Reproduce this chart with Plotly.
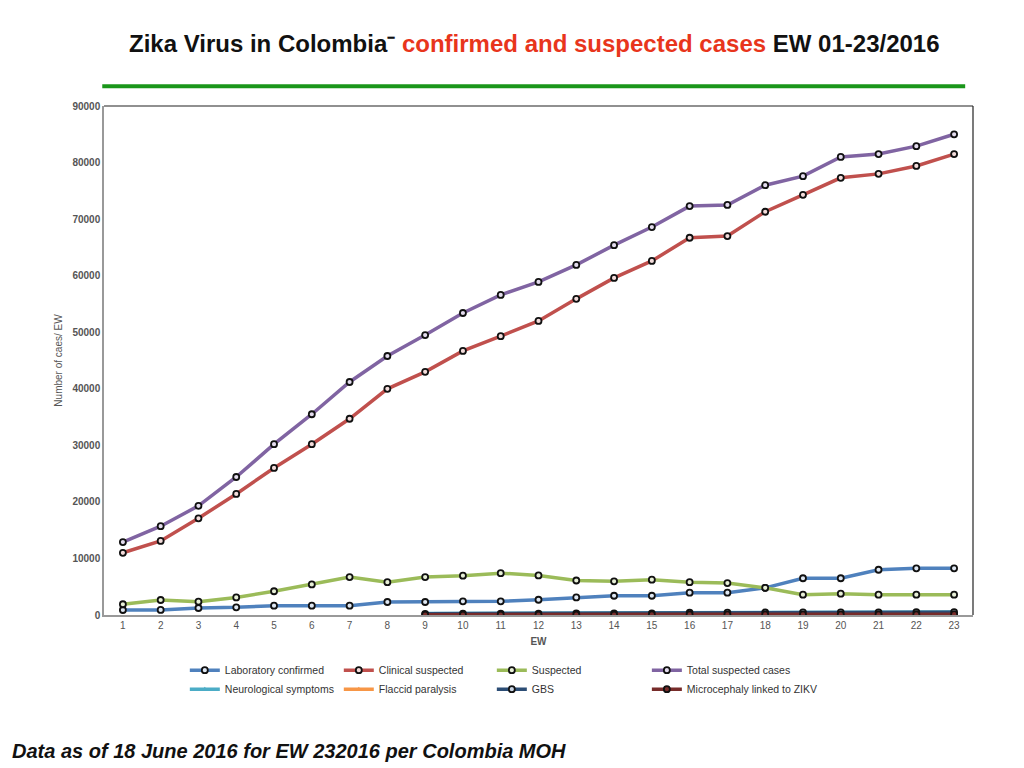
import plotly.graph_objects as go

weeks = list(range(1, 24))

lab_confirmed = [880, 900, 1240, 1360, 1650, 1650, 1650, 2300, 2300, 2420, 2420, 2700,
                 3100, 3400, 3400, 3950, 3950, 4800, 6500, 6500, 8000, 8250, 8250]
clinical_suspected = [11000, 13100, 17100, 21400, 26000, 30200, 34700, 40000, 43000, 46700,
                      49300, 52000, 55900, 59600, 62600, 66700, 67000, 71300, 74300, 77300,
                      78000, 79400, 81500]
suspected = [1900, 2650, 2350, 3100, 4200, 5400, 6700, 5800, 6700, 6950, 7400, 7000,
             6100, 5950, 6250, 5800, 5650, 4800, 3600, 3770, 3600, 3600, 3600]
total_suspected = [12900, 15700, 19300, 24400, 30200, 35500, 41200, 45800, 49500, 53400,
                   56600, 58900, 61900, 65400, 68600, 72300, 72500, 76000, 77600, 81000,
                   81500, 82900, 85000]
neurological = [None] * 8 + [250, 270, 290, 300, 320, 330, 340, 440, 460, 480, 500, 510,
                             520, 530, 540]
flaccid = [None] * 8 + [60, 60, 70, 70, 80, 80, 90, 90, 100, 100, 110, 110, 120, 120, 130]
gbs = [None] * 8 + [200, 220, 240, 260, 280, 290, 300, 400, 420, 440, 460, 470, 480, 490, 500]
microcephaly = [None] * 8 + [60, 70, 80, 80, 90, 90, 100, 100, 110, 110, 120, 120, 130, 130, 140]

# (name, values, line colour, marker fill, legend column)
series = [
    ("Laboratory confirmed", lab_confirmed, "#4f81bd", "#dfe8f3", "legend"),
    ("Clinical suspected", clinical_suspected, "#c0504d", "#f3dcdb", "legend2"),
    ("Suspected", suspected, "#9bbb59", "#e8f0d8", "legend3"),
    ("Total suspected cases", total_suspected, "#8064a2", "#e4dcee", "legend4"),
    ("Neurological symptoms", neurological, "#4bacc6", None, "legend"),
    ("Flaccid paralysis", flaccid, "#f79646", None, "legend2"),
    ("GBS", gbs, "#2c4d75", "#c9d4e3", "legend3"),
    ("Microcephaly linked to ZIKV", microcephaly, "#772c2a", "#772c2a", "legend4"),
]

fig = go.Figure()

for name, vals, color, fill, leg in series:
    if fill is None:
        marker = dict(symbol="triangle-up", size=5, color=color)
    else:
        marker = dict(symbol="circle", size=6, color=fill,
                      line=dict(color="#111111", width=1.8))
    fig.add_trace(go.Scatter(
        x=weeks, y=vals, name=name, mode="lines+markers",
        line=dict(color=color, width=3.5),
        marker=marker,
        legend=leg,
    ))

legend_style = dict(
    orientation="v", xanchor="left", yanchor="top", y=-0.080,
    font=dict(family="Liberation Sans", size=10.5, color="#333333"),
    itemwidth=30, tracegroupgap=0, bgcolor="rgba(0,0,0,0)",
)

fig.update_layout(
    width=1016, height=760,
    paper_bgcolor="white", plot_bgcolor="white",
    margin=dict(l=96, r=51, t=98, b=153),
    font=dict(family="Liberation Sans", color="#555555"),
    legend=dict(x=0.093, **legend_style),
    legend2=dict(x=0.2702, **legend_style),
    legend3=dict(x=0.4463, **legend_style),
    legend4=dict(x=0.6247, **legend_style),
    xaxis=dict(
        range=[0.5, 23.5], tickmode="array", tickvals=weeks,
        ticktext=[str(w) for w in weeks],
        showgrid=False, zeroline=False,
        showline=True, linecolor="#999999", linewidth=1.5,
        ticks="", tickfont=dict(size=10, color="#555555", family="Liberation Sans"),
        title=dict(text="<b>EW</b>", font=dict(size=10, color="#555555"), standoff=8),
    ),
    yaxis=dict(
        range=[0, 90000], dtick=10000, tickformat="d",
        showgrid=False, zeroline=False,
        showline=True, linecolor="#999999", linewidth=1.5,
        ticks="", tickfont=dict(size=10, color="#555555", family="Liberation Sans"),
        tickprefix="<b>", ticksuffix="</b>",
        title=dict(text="Number of caes/ EW", font=dict(size=10, color="#555555"),
                   standoff=8),
    ),
)

# black frame on top and right of the plot area
fig.add_shape(type="line", xref="paper", yref="paper", x0=0, x1=1, y0=1, y1=1,
              line=dict(color="#222222", width=1.2))
fig.add_shape(type="line", xref="paper", yref="paper", x0=1, x1=1, y0=0, y1=1,
              line=dict(color="#222222", width=1.2))

# green rule under the title
fig.add_shape(type="line", xref="paper", yref="paper", x0=-0.002, x1=0.991,
              y0=1.039, y1=1.039, line=dict(color="#1a961a", width=4))

fig.add_annotation(
    xref="paper", yref="paper", x=0.495, y=1.122, xanchor="center", yanchor="middle",
    showarrow=False,
    text=("<b>Zika Virus in Colombia⁻ <span style='color:#e8351c'>confirmed and suspected "
          "cases</span> EW 01-23/2016</b>"),
    font=dict(family="Liberation Sans", size=24, color="#111111"),
)

fig.add_annotation(
    xref="paper", yref="paper", x=-0.1085, y=-0.268, xanchor="left", yanchor="middle",
    showarrow=False,
    text="<b><i>Data as of 18 June 2016 for EW 232016 per Colombia MOH</i></b>",
    font=dict(family="Liberation Sans", size=20, color="#111111"),
)

fig.write_html("out.html")
